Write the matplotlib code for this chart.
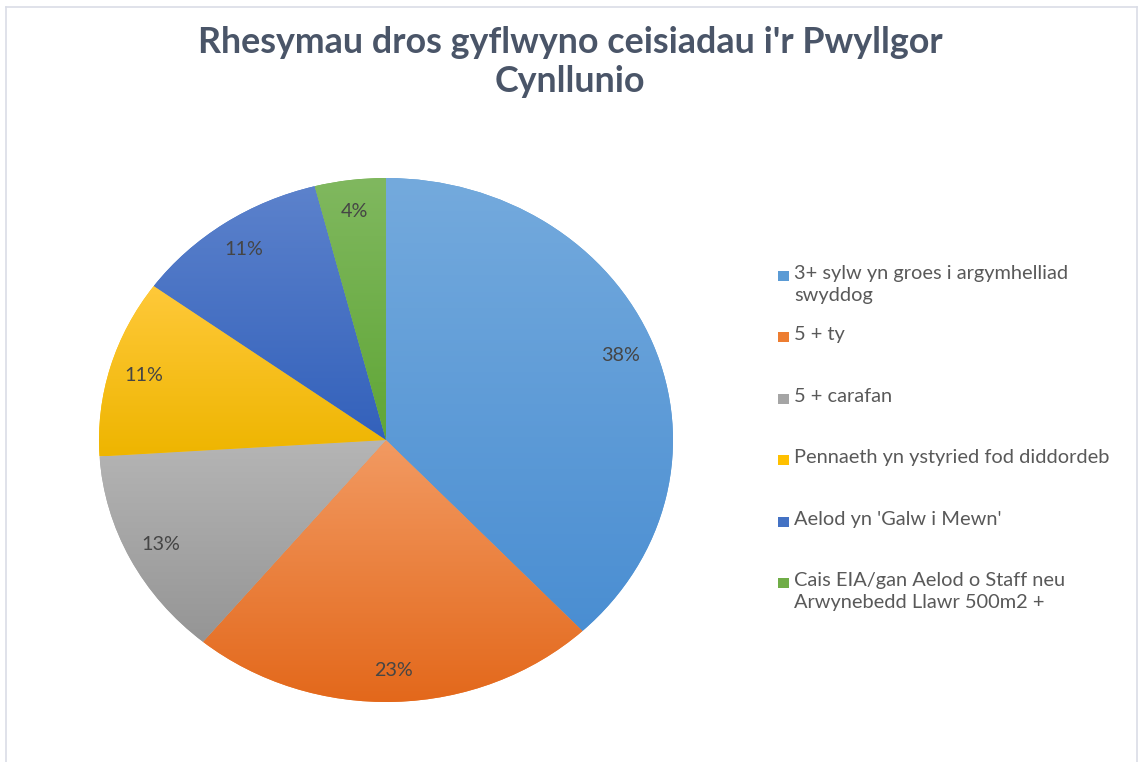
import numpy as np
import matplotlib
matplotlib.use('Agg')
import matplotlib.pyplot as plt
from matplotlib.colors import LinearSegmentedColormap
from matplotlib.patches import Rectangle
from matplotlib.lines import Line2D

plt.rcParams['font.family'] = ['Lato', 'DejaVu Sans']

# ---- data ----
categories = [
    "3+ sylw yn groes i argymhelliad\nswyddog",
    "5 + ty",
    "5 + carafan",
    "Pennaeth yn ystyried fod diddordeb",
    "Aelod yn 'Galw i Mewn'",
    "Cais EIA/gan Aelod o Staff neu\nArwynebedd Llawr 500m2 +",
]
values = [38, 23, 13, 11, 11, 4]

base_colors = ['#5b9bd5', '#ed7d31', '#a5a5a5', '#ffc000', '#4472c4', '#70ad47']
grad_top = ['#74aadd', '#f29a62', '#b5b5b5', '#ffc93a', '#5c82cc', '#80b85f']
grad_bot = ['#4a8ed2', '#e3681b', '#959595', '#eeb500', '#3361bb', '#60a636']

title = "Rhesymau dros gyflwyno ceisiadau i'r Pwyllgor\nCynllunio"

# ---- figure ----
fig = plt.figure(figsize=(11.39, 7.62), dpi=100)
W, H = 1139, 762

# light frame around the chart area
for xs, ys in [((6, 6), (0, 755)), ((6, 1137), (755, 755)), ((1137, 1137), (0, 755))]:
    fig.add_artist(Line2D(np.array(xs) / W, np.array(ys) / H, color='#dadde6', lw=1.2))

fig.text(570 / W, 1 - 62 / H, title, ha='center', va='center', fontsize=25.8,
         fontweight='bold', color='#4a5568', linespacing=1.2)

# pie (elliptical, like the stretched original)
cx, cy, rx, ry = 386, 440, 287, 262
ax = fig.add_axes([(cx - rx) / W, (H - cy - ry) / H, 2 * rx / W, 2 * ry / H])
wedges, texts, autotexts = ax.pie(values, startangle=90, counterclock=False,
                                  autopct='%1.0f%%', pctdistance=0.88,
                                  colors=base_colors,
                                  textprops=dict(fontsize=14.2, color='#454545'))
grad = np.linspace(0, 1, 256).reshape(-1, 1)
for w, c0, c1 in zip(wedges, grad_top, grad_bot):
    ext = w.get_path().get_extents()
    cmap = LinearSegmentedColormap.from_list('g', [c0, c1])
    im = ax.imshow(grad, cmap=cmap, aspect='auto', origin='upper',
                   extent=[ext.x0, ext.x1, ext.y0, ext.y1], zorder=w.get_zorder() + 0.1)
    im.set_clip_path(w)
for t in autotexts:
    t.set_zorder(5)
ax.set_aspect('auto')
ax.set_xlim(-1, 1)
ax.set_ylim(-1, 1)
ax.axis('off')

# legend, drawn by hand to keep Excel's spacing
lx, ly0, pitch = 783, 276, 61.4
for i, (lab, col) in enumerate(zip(categories, base_colors)):
    y = ly0 + i * pitch
    fig.add_artist(Rectangle(((lx - 5.5) / W, 1 - (y + 5) / H), 11 / W, 10 / H,
                             facecolor=col, edgecolor='none'))
    fig.text(794 / W, 1 - (y - 11) / H, lab, ha='left', va='top', fontsize=14.4,
             color='#595959', linespacing=1.38)

fig.savefig('out.png', dpi=100)
